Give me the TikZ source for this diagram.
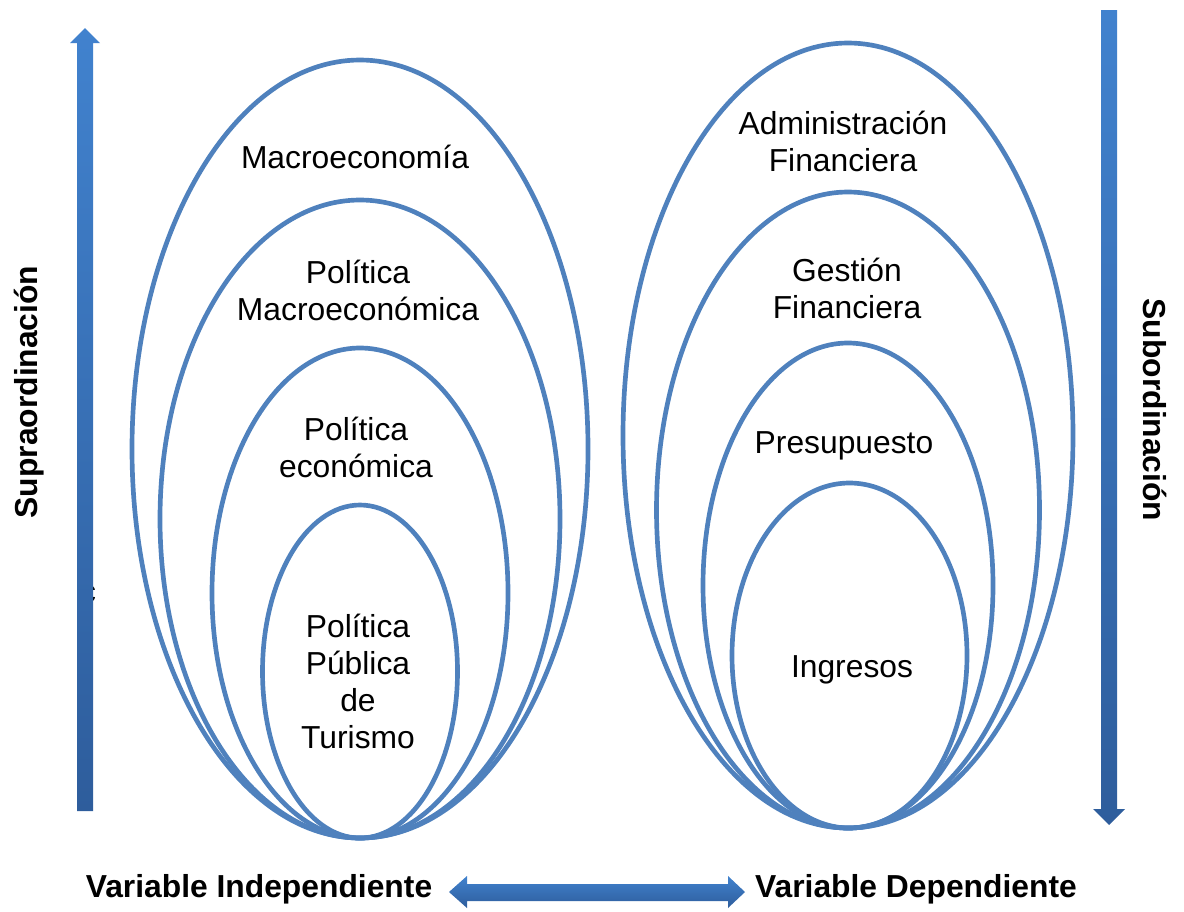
\documentclass[tikz,border=0pt]{standalone}
\usepackage{fontspec}
\setmainfont{Liberation Sans}
\usetikzlibrary{shapes.geometric}
\definecolor{ellblue}{HTML}{4F81BD}
\definecolor{arrtop}{HTML}{4182CE}
\definecolor{arrbot}{HTML}{2E5D9C}
\tikzset{
  ell/.style={draw=ellblue, line width=3.5pt, ellipse, inner sep=0pt},
  lbl/.style={font=\fontsize{23.85pt}{27.75pt}\selectfont, align=center, inner sep=0pt, anchor=base},
  blbl/.style={font=\fontsize{23.85pt}{27.75pt}\selectfont\bfseries, inner sep=0pt, anchor=base},
}
\begin{document}
\begin{tikzpicture}[x=0.75pt, y=-0.75pt]
\useasboundingbox (0,0) rectangle (1184,911);
% left ellipses
\node[ell, minimum width=342pt, minimum height=583.5pt] (L1) at (360,449) {};
\node[ell, minimum width=300pt, minimum height=478.5pt] (L2) at (360,519) {};
\node[ell, minimum width=222pt, minimum height=367.5pt] (L3) at (360,593) {};
\node[ell, minimum width=146.25pt, minimum height=249.75pt] (L4) at (360,671.5) {};
% right ellipses
\node[ell, minimum width=337.5pt, minimum height=588.75pt] (R1) at (848,435.5) {};
\node[ell, minimum width=287.25pt, minimum height=477pt] (R2) at (848,510) {};
\node[ell, minimum width=217.5pt, minimum height=363.75pt] (R3) at (848,585.5) {};
\node[ell, minimum width=176.25pt, minimum height=258.75pt] (R4) at (849.5,655.5) {};
% labels (anchor = baseline of the last line)
\node[lbl] (tL1) at (355,168) {Macroeconomía};
\node[lbl] (tL2) at (358,320) {Política\\Macroeconómica};
\node[lbl] (tL3) at (356,477) {Política\\económica};
\node[lbl] (tL4) at (358,748) {Política\\Pública\\de\\Turismo};
\node[lbl] (tR1) at (843,171) {Administración\\Financiera};
\node[lbl] (tR2) at (847,318) {Gestión\\Financiera};
\node[lbl] (tR3) at (844,453) {Presupuesto};
\node[lbl] (tR4) at (852,677) {Ingresos};
\node[lbl] (stray) at (88,602) {c};
% axis labels
\node[blbl] (vi) at (259,897) {Variable Independiente};
\node[blbl] (vd) at (916,897) {Variable Dependiente};
\node[blbl, rotate=90] (sup) at (37,392) {Supraordinación};
\node[blbl, rotate=-90] (sub) at (1143,410) {Subordinación};
% block arrows
\shade[top color=arrtop, bottom color=arrbot]
  (85,28) -- (100,43) -- (93,43) -- (93,811) -- (77,811) -- (77,43) -- (70,43) -- cycle;
\shade[top color=arrtop, bottom color=arrbot]
  (1101,10) -- (1117,10) -- (1117,809) -- (1125,809) -- (1109,825) -- (1093,809) -- (1101,809) -- cycle;
\shade[top color=arrtop, bottom color=arrbot]
  (449,892) -- (467,876) -- (467,884) -- (728,884) -- (728,876) -- (745,892) -- (728,908) -- (728,901) -- (467,901) -- (467,908) -- cycle;
\end{tikzpicture}
\end{document}
